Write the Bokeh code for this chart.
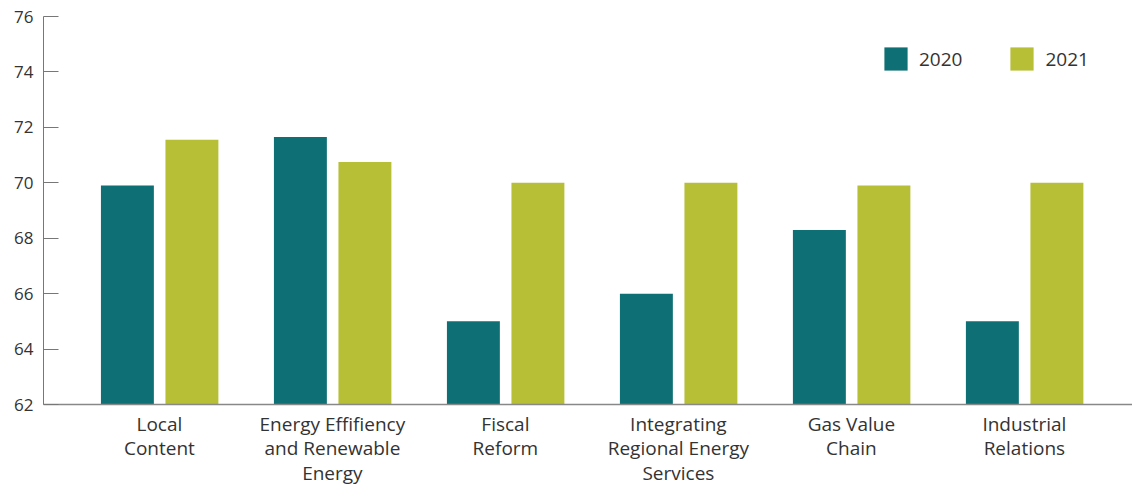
from bokeh.plotting import figure
from bokeh.models import ColumnDataSource, Legend, LegendItem, FixedTicker, Range1d
from bokeh.embed import file_html
from bokeh.resources import INLINE

categories = ["Local\nContent", "Energy Effifiency\nand Renewable\nEnergy", "Fiscal\nReform",
              "Integrating\nRegional Energy\nServices", "Gas Value\nChain", "Industrial\nRelations"]
series_names = ["2020", "2021"]
values_2020 = [69.9, 71.65, 65.0, 66.0, 68.3, 65.0]
values_2021 = [71.55, 70.75, 70.0, 70.0, 69.9, 70.0]
y_ticks = [62, 64, 66, 68, 70, 72, 74, 76]

C2020 = "#0E6F74"
C2021 = "#B7BF36"
FONT = "Open Sans"
TXT = "#333333"

xs = list(range(len(categories)))

p = figure(width=1132, height=489, output_backend="svg", toolbar_location=None,
           x_range=Range1d(-0.67, 5.625), y_range=Range1d(62, 76),
           min_border_left=43, min_border_right=0, min_border_top=16, min_border_bottom=84)
p.outline_line_color = None
p.xgrid.visible = False
p.ygrid.visible = False

src20 = ColumnDataSource(dict(x=[x - 0.185 for x in xs], top=values_2020))
src21 = ColumnDataSource(dict(x=[x + 0.188 for x in xs], top=values_2021))
r20 = p.vbar(x="x", top="top", bottom=62, width=0.306, source=src20, fill_color=C2020, line_color=None)
r21 = p.vbar(x="x", top="top", bottom=62, width=0.306, source=src21, fill_color=C2021, line_color=None)

# y axis
ya = p.yaxis[0]
ya.ticker = FixedTicker(ticks=y_ticks)
ya.minor_tick_line_color = None
ya.major_tick_in = 15
ya.major_tick_out = 0
ya.major_tick_line_color = "#777777"
ya.axis_line_color = "#777777"
ya.major_label_text_font = FONT
ya.major_label_text_font_size = "17px"
ya.major_label_text_color = TXT
ya.major_label_standoff = 10

# x axis
xa = p.xaxis[0]
xa.ticker = FixedTicker(ticks=xs)
xa.major_label_overrides = {i: c for i, c in enumerate(categories)}
xa.major_tick_line_color = None
xa.minor_tick_line_color = None
xa.axis_line_color = "#888888"
xa.axis_line_width = 1.5
xa.major_label_text_font = FONT
xa.major_label_text_font_size = "19px"
xa.major_label_text_color = TXT
xa.major_label_standoff = 0
xa.major_label_text_line_height = 0.96

legend = Legend(items=[LegendItem(label=series_names[0], renderers=[r20]),
                       LegendItem(label=series_names[1], renderers=[r21])],
                orientation="horizontal", location=(838, 331),
                padding=0, margin=0, spacing=45, label_standoff=9,
                glyph_width=29, glyph_height=29,
                border_line_alpha=0, background_fill_alpha=0,
                label_text_font=FONT, label_text_font_size="19px", label_text_color=TXT)
p.add_layout(legend, "center")

open("out.html", "w").write(file_html(p, INLINE))
